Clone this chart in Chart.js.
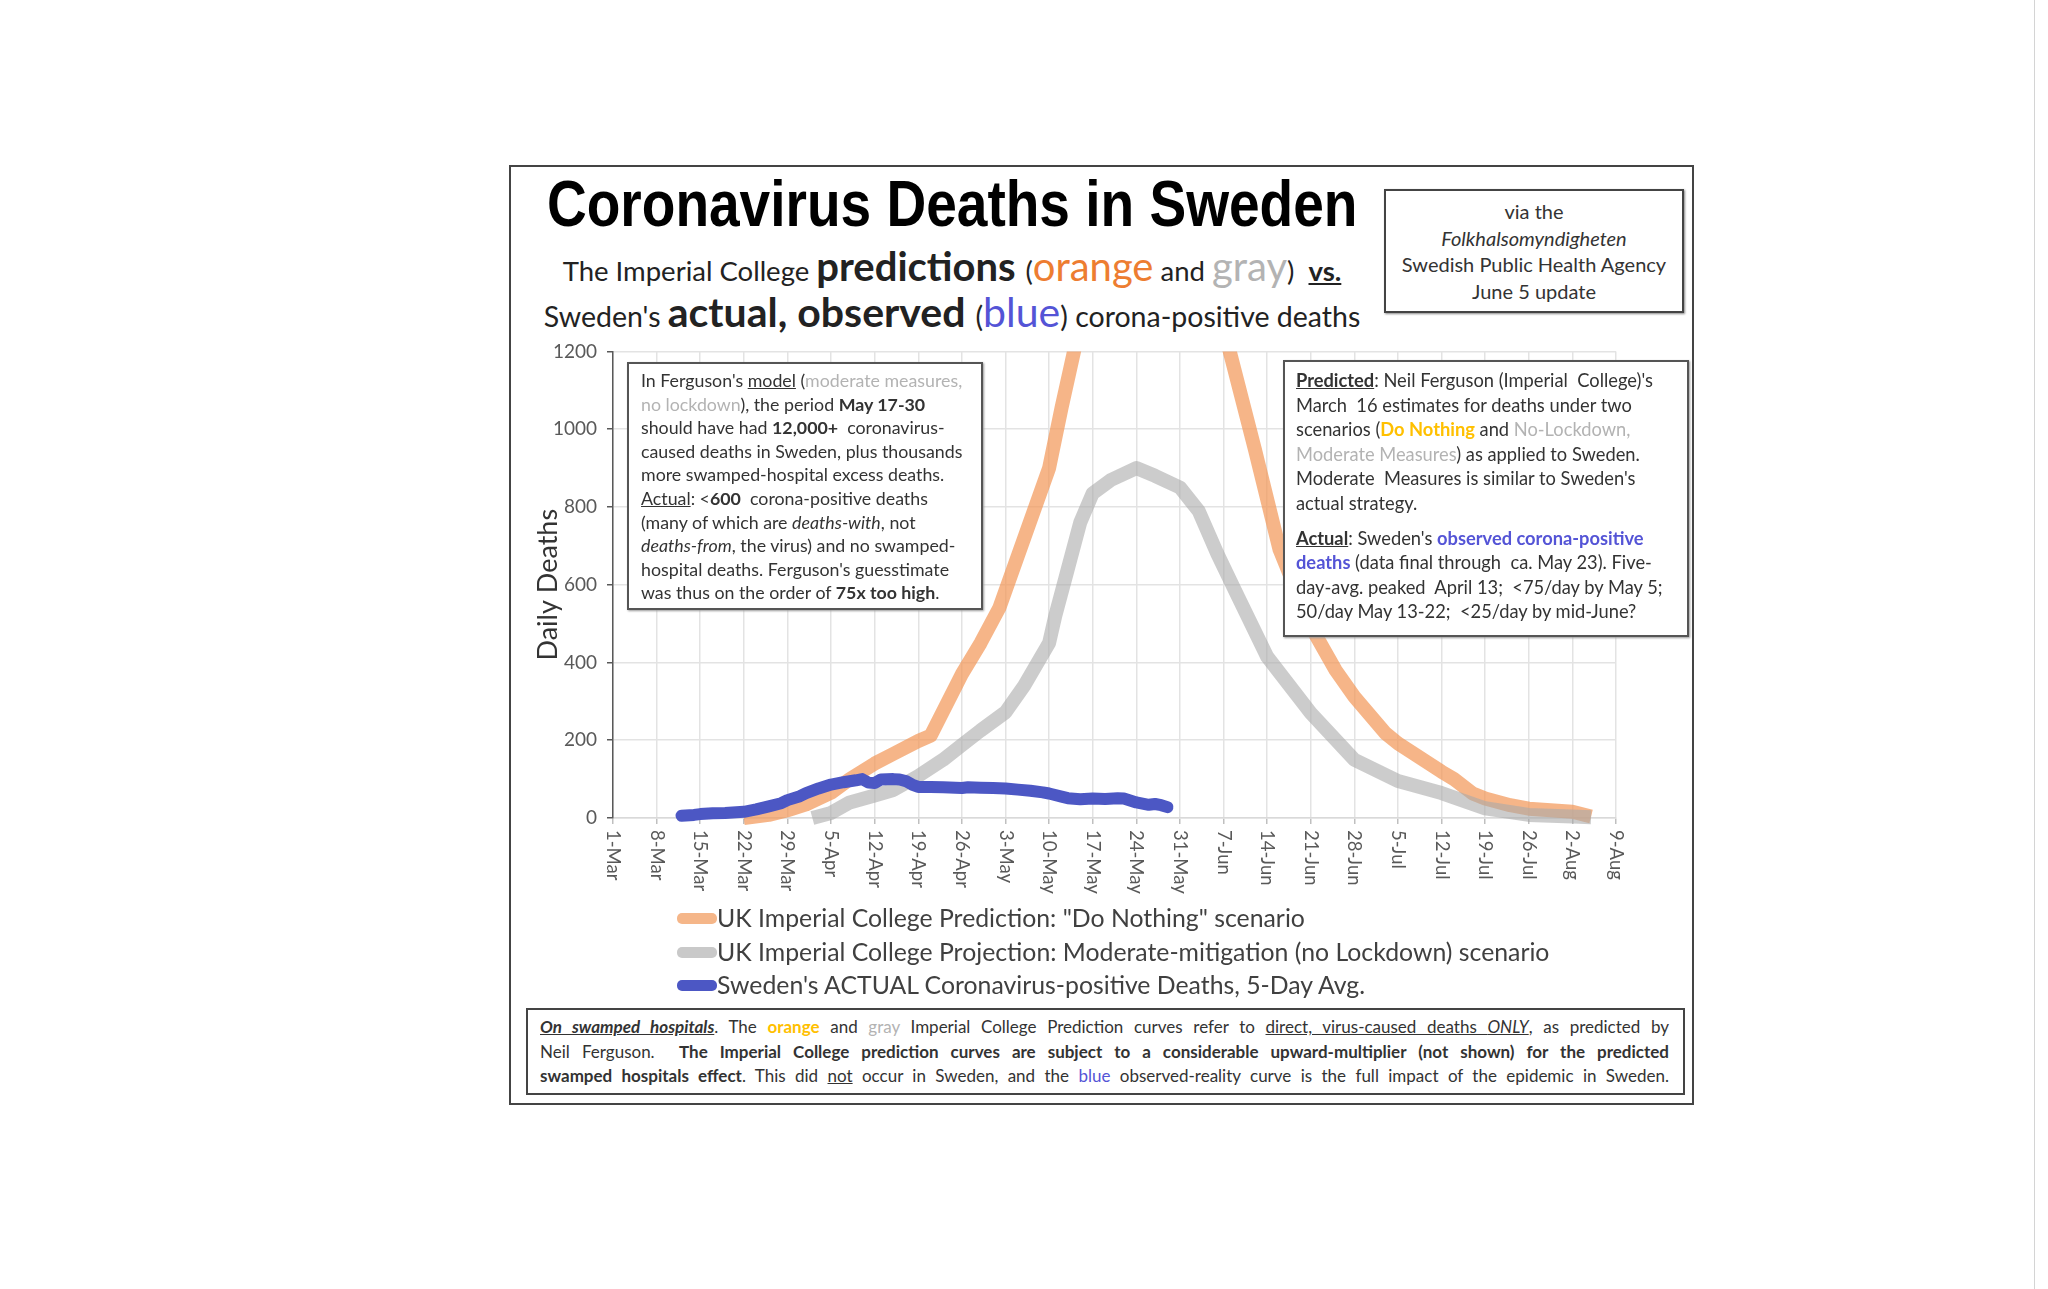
<!DOCTYPE html>
<html>
<head>
<meta charset="utf-8">
<script src="https://cdn.jsdelivr.net/npm/chart.js@4.4.0/dist/chart.umd.min.js"></script>
<style>
  body { margin: 0; background: #fff; width: 2048px; height: 1289px; overflow: hidden; position: relative;
         font-family: Lato, "Open Sans", sans-serif; color: #333; }
  .abs { position: absolute; }
  #frame { left: 509px; top: 165px; width: 1181px; height: 936px; border: 2px solid #444; }
  #pageLine { left: 2034px; top: 0; width: 1px; height: 1289px; background: #d4d4d4; }
  #title { left: 481px; top: 170px; width: 900px; text-align: center; white-space: nowrap; }
  #titleTxt { display: inline-block; font-family: "Liberation Sans", Arial, sans-serif; font-weight: bold;
              font-size: 64px; line-height: 68px; color: #000; transform-origin: center center; }
  .sub { left: 452px; width: 1000px; text-align: center; white-space: nowrap; color: #222; }
  .sm { font-size: 27.5px; }
  .big { font-size: 40px; font-weight: bold; }
  #sub1 { top: 241px; line-height: 50px; }
  #sub2 { top: 287px; line-height: 50px; }
  #sub2 .sm { font-size: 28.5px; }
  #sub2 .big { font-size: 41px; }
  #src { left: 1384px; top: 189px; width: 300px; height: 124px; border: 2px solid #444; text-align: center;
         font-size: 20px; line-height: 26.5px; box-sizing: border-box; padding-top: 7px; box-shadow: 1px 1px 2px #888; }
  .box { border: 2px solid #555; background: #fff; white-space: nowrap; color: #333;
         box-sizing: border-box; box-shadow: 1px 1px 2px #999; }
  #noteL { left: 627px; top: 362px; width: 356px; height: 248px; padding: 5px 0 0 12px; line-height: 23.6px; font-size: 17.8px; }
  #noteR { left: 1283px; top: 360px; width: 406px; height: 277px; padding: 6px 0 0 11px; line-height: 24.6px; font-size: 18.3px; }
  #chartBox { left: 520px; top: 330px; width: 1120px; height: 600px; }
  #legend { left: 677px; top: 901px; font-size: 24.8px; color: #404040; line-height: 33.5px; white-space: nowrap; }
  .sw { display: inline-block; width: 40px; height: 11px; border-radius: 5px; vertical-align: middle; position: relative; top: -2px; }
  #foot { left: 526px; top: 1008px; width: 1159px; height: 87px; border: 2px solid #444; box-sizing: border-box;
          padding: 5px 14px 0 12px; font-size: 17px; line-height: 24.5px; color: #333; }
  #foot div { text-align: justify; text-align-last: justify; white-space: nowrap; }
  .gr { color: #b3b3b3; }
  .gd { color: #ffc000; font-weight: bold; }
  .bl { color: #5454d6; }
  .or { color: #ed7d31; }
</style>
</head>
<body>
<div id="pageLine" class="abs"></div>
<div id="frame" class="abs"></div>
<div id="title" class="abs"><span id="titleTxt">Coronavirus Deaths in Sweden</span></div>
<div id="sub1" class="abs sub"><span class="sm">The Imperial College </span><span class="big">predictions </span><span class="sm">(</span><span class="big or" style="font-weight:normal">orange</span><span class="sm"> and </span><span class="big gr" style="font-weight:normal">gray</span><span class="sm">)&nbsp; <b><u>vs.</u></b></span></div>
<div id="sub2" class="abs sub"><span class="sm">Sweden's </span><span class="big">actual, observed </span><span class="sm">(</span><span class="big bl" style="font-weight:normal">blue</span><span class="sm">) corona-positive deaths</span></div>
<div id="src" class="abs">via the<br><i>Folkhalsomyndigheten</i><br>Swedish Public Health Agency<br>June 5 update</div>

<div id="chartBox" class="abs"><canvas id="deathsChart"></canvas></div>

<div id="noteL" class="abs box">
In Ferguson's <u>model</u> (<span class="gr">moderate measures,</span><br>
<span class="gr">no lockdown</span>), the period <b>May 17-30</b><br>
should have had <b>12,000+</b>&nbsp; coronavirus-<br>
caused deaths in Sweden, plus thousands<br>
more swamped-hospital excess deaths.<br>
<u>Actual</u>: &lt;<b>600</b>&nbsp; corona-positive deaths<br>
(many of which are <i>deaths-with</i>, not<br>
<i>deaths-from</i>, the virus) and no swamped-<br>
hospital deaths. Ferguson's guesstimate<br>
was thus on the order of <b>75x too high</b>.
</div>

<div id="noteR" class="abs box">
<b><u>Predicted</u></b>: Neil Ferguson (Imperial&nbsp; College)'s<br>
March&nbsp; 16 estimates for deaths under two<br>
scenarios (<span class="gd">Do Nothing</span> and <span class="gr">No-Lockdown,</span><br>
<span class="gr">Moderate Measures</span>) as applied to Sweden.<br>
Moderate&nbsp; Measures is similar to Sweden's<br>
actual strategy.<br>
<div style="height:10px"></div>
<b><u>Actual</u></b>: Sweden's <b class="bl">observed corona-positive</b><br>
<b class="bl">deaths</b> (data final through&nbsp; ca. May 23). Five-<br>
day-avg. peaked&nbsp; April 13;&nbsp; &lt;75/day by May 5;<br>
50/day May 13-22;&nbsp; &lt;25/day by mid-June?
</div>

<div id="legend" class="abs">
  <div><span class="sw" style="background:#f5b689"></span>UK Imperial College Prediction: "Do Nothing" scenario</div>
  <div><span class="sw" style="background:#c9c9c9"></span>UK Imperial College Projection: Moderate-mitigation (no Lockdown) scenario</div>
  <div><span class="sw" style="background:#4c57c4"></span>Sweden's ACTUAL Coronavirus-positive Deaths, 5-Day Avg.</div>
</div>

<div id="foot" class="abs">
  <div><b><i><u>On swamped hospitals</u></i></b>. The <span class="gd">orange</span> and <span class="gr">gray</span> Imperial College Prediction curves refer to <u>direct, virus-caused deaths <i>ONLY</i></u>, as predicted by</div>
  <div>Neil Ferguson.&nbsp; <b>The Imperial College prediction curves are subject to a considerable upward-multiplier (not shown) for the predicted</b></div>
  <div><b>swamped hospitals effect</b>. This did <u>not</u> occur in Sweden, and the <span class="bl">blue</span> observed-reality curve is the full impact of the epidemic in Sweden.</div>
</div>

<script>
// squeeze the title to the condensed look of the original
const tt = document.getElementById('titleTxt');
tt.style.transform = 'scaleX(' + (810 / tt.offsetWidth).toFixed(3) + ')';

// days counted from 1-Mar (day 0)
const xTickLabels = ["1-Mar","8-Mar","15-Mar","22-Mar","29-Mar","5-Apr","12-Apr","19-Apr","26-Apr","3-May",
  "10-May","17-May","24-May","31-May","7-Jun","14-Jun","21-Jun","28-Jun","5-Jul","12-Jul","19-Jul","26-Jul","2-Aug","9-Aug"];

const orangeDays = [21,25,28,31,35,38,42,45,49,51,56,59,62,66,70,72,74,77,80,85,90,95,99,103,107,112,116,119,124,126,133,135,138,140,144,147,154,157];
const orangeVals = [0,8,20,35,65,100,140,165,198,212,370,450,540,720,900,1055,1200,1450,1900,2300,2050,1450,1200,950,690,493,380,312,218,192,119,100,63,50,33,24,16,4];

const grayDays = [32,35,38,42,45,49,53,56,59,63,66,70,71,73,75,77,80,84,87,91,94,97,100,105,112,119,126,133,140,147,154,157];
const grayVals = [0,13,40,58,72,108,150,188,225,272,340,450,520,640,760,835,870,900,880,850,790,680,580,415,270,150,95,64,25,8,4,2];

const blueDays = [11,13,14,16,18,21,23,25,27,28,30,31,33,35,37,39,40,41,42,43,45,46,47,48,49,51,53,56,57,59,61,63,65,67,69,70,72,73,75,77,79,81,82,84,86,87,88,89];
const blueVals = [6,8,10,12,13,16,22,30,38,46,56,64,76,86,92,97,100,91,90,99,100,99,95,86,80,80,79,77,79,78,77,76,73,70,66,63,55,51,48,50,49,51,50,40,34,36,33,28];

const pts = (d, v) => d.map((x, i) => ({ x: x, y: v[i] }));

const xLabelPlugin = {
  id: 'xLabels',
  afterDraw(chart) {
    const sx = chart.scales.x, ctx = chart.ctx;
    ctx.save();
    ctx.font = '18.5px Lato';
    ctx.fillStyle = '#595959';
    ctx.textAlign = 'left';
    ctx.textBaseline = 'middle';
    sx.ticks.forEach(t => {
      const px = sx.getPixelForValue(t.value);
      ctx.save();
      ctx.translate(px, chart.chartArea.bottom + 12);
      ctx.rotate(Math.PI / 2);
      ctx.fillText(xTickLabels[Math.round(t.value / 7)], 0, 0);
      ctx.restore();
    });
    ctx.restore();
  }
};

const clipBox = { left: 0, top: 0, right: 10, bottom: 10 };

new Chart(document.getElementById('deathsChart'), {
  type: 'line',
  data: {
    datasets: [
      { label: 'UK Imperial College Prediction: "Do Nothing" scenario', data: pts(orangeDays, orangeVals),
        borderColor: 'rgba(242,150,85,0.7)', borderWidth: 14, pointRadius: 0, order: 3, clip: clipBox, borderJoinStyle: 'round' },
      { label: 'UK Imperial College Projection: Moderate-mitigation (no Lockdown) scenario', data: pts(grayDays, grayVals),
        borderColor: 'rgba(170,170,170,0.6)', borderWidth: 14, pointRadius: 0, order: 2, clip: clipBox, borderJoinStyle: 'round' },
      { label: "Sweden's ACTUAL Coronavirus-positive Deaths, 5-Day Avg.", data: pts(blueDays, blueVals),
        borderColor: '#4c57c4', borderWidth: 12, pointRadius: 0, order: 1, clip: clipBox,
        borderCapStyle: 'round', borderJoinStyle: 'round' }
    ]
  },
  options: {
    responsive: true,
    maintainAspectRatio: false,
    animation: false,
    layout: { padding: { top: 20, right: 24, left: 0, bottom: 0 } },
    plugins: { legend: { display: false }, tooltip: { enabled: false } },
    scales: {
      x: {
        type: 'linear', min: 0, max: 161,
        ticks: { stepSize: 7, display: false },
        grid: { color: '#e3e3e3', lineWidth: 1.5, tickLength: 6, tickColor: '#bfbfbf' },
        border: { color: '#d9d9d9', width: 1.5 },
        afterFit(s) { s.height = 112; }
      },
      y: {
        min: 0, max: 1200,
        ticks: { stepSize: 200, padding: 10, color: '#595959', font: { family: 'Lato', size: 19 },
                 callback: v => String(v) },
        grid: { color: '#e3e3e3', lineWidth: 1.5, tickLength: 6, tickColor: '#595959' },
        border: { color: '#595959', width: 1.5 },
        title: { display: true, text: 'Daily Deaths', color: '#333', font: { family: 'Lato', size: 27 }, padding: { top: 12, bottom: 0 } },
        afterFit(s) { s.width = 93; }
      }
    }
  },
  plugins: [xLabelPlugin]
});
</script>
</body>
</html>
